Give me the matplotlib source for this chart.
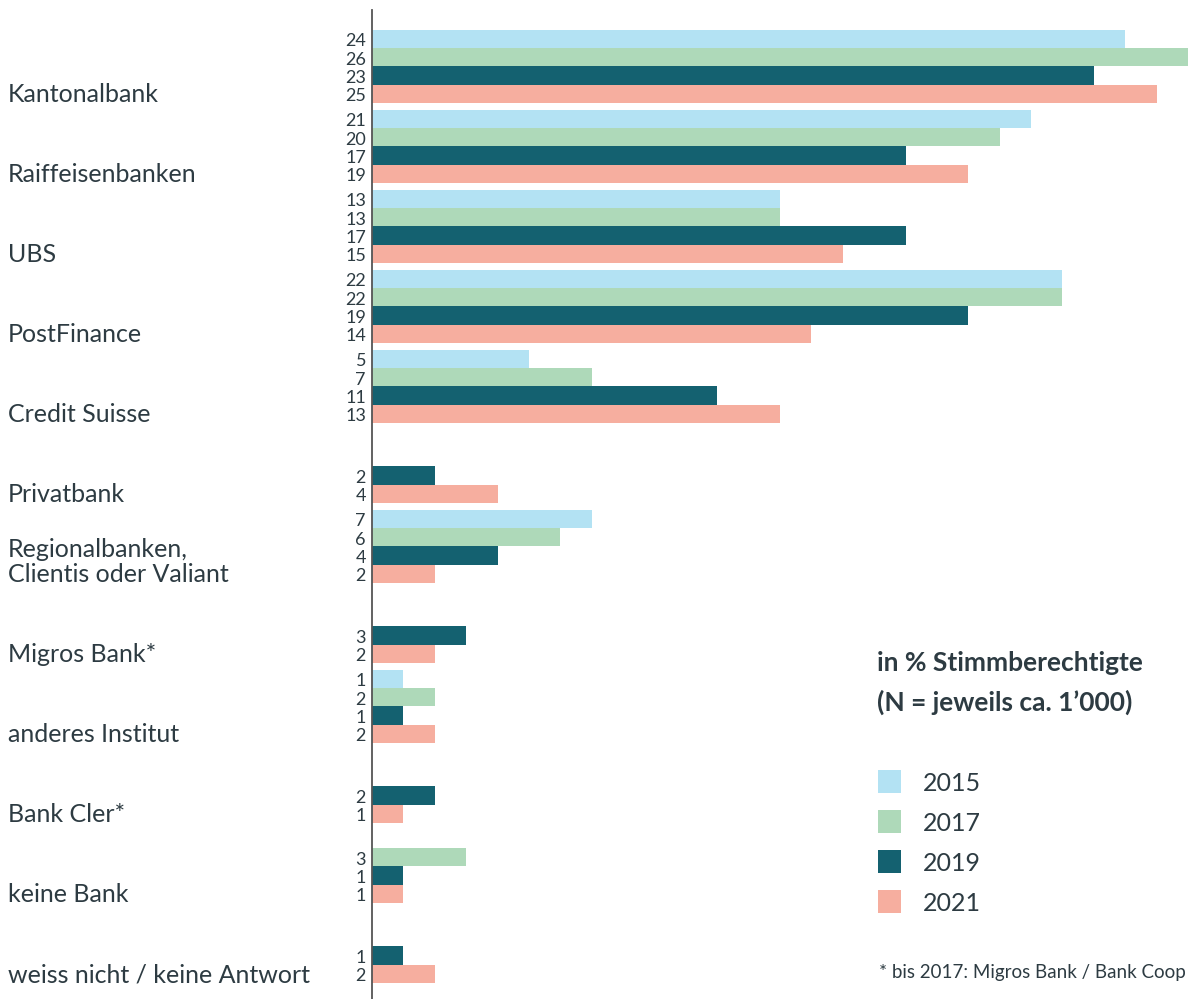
import matplotlib
matplotlib.use("Agg")
import matplotlib.pyplot as plt
import numpy as np

categories = ["Kantonalbank", "Raiffeisenbanken", "UBS", "PostFinance", "Credit Suisse",
              "Privatbank", "Regionalbanken,\nClientis oder Valiant", "Migros Bank*",
              "anderes Institut", "Bank Cler*", "keine Bank", "weiss nicht / keine Antwort"]
years = ["2015", "2017", "2019", "2021"]
v2015 = [24, 21, 13, 22, 5, None, 7, None, 1, None, None, None]
v2017 = [26, 20, 13, 22, 7, None, 6, None, 2, None, 3, None]
v2019 = [23, 17, 17, 19, 11, 2, 4, 3, 1, 2, 1, 1]
v2021 = [25, 19, 15, 14, 13, 4, 2, 2, 2, 1, 1, 2]
series = [v2015, v2017, v2019, v2021]
colors = ["#b3e2f3", "#aed9b9", "#146170", "#f6ae9f"]
title_lines = ["in % Stimmberechtigte", "(N = jeweils ca. 1\u2019000)"]
footnote = "* bis 2017: Migros Bank / Bank Coop"

TXT = "#2d3b42"
FONT = "Lato"

W, H = 1188, 999
fig = plt.figure(figsize=(W / 100, H / 100), dpi=100)

slot = 18.33          # px per bar
G = 80 / slot         # group pitch in slots
top_px, c0 = 10, 39   # axes top px, first bar center px
ax_left = 372 / W
ax = fig.add_axes([ax_left, 0, 1 - ax_left, (H - top_px) / H])
ax.set_xlim(0, 26)
ymin = (top_px - c0) / slot
ymax = (H - c0) / slot
ax.set_ylim(ymax, ymin)

for j, vals in enumerate(series):
    for i, v in enumerate(vals):
        if v is None:
            continue
        y = i * G + j
        ax.barh(y, v, height=1.0, color=colors[j], linewidth=0)
        ax.annotate(str(v), xy=(0, y), xytext=(-6, -7.5), textcoords="offset pixels",
                    ha="right", va="baseline", fontsize=13, color=TXT,
                    family=FONT, annotation_clip=False)

for i, cat in enumerate(categories):
    y = i * G + 3
    lines = cat.split("\n")
    for k, line in enumerate(reversed(lines)):
        ax.annotate(line, xy=(0, y), xycoords=("figure fraction", "data"),
                    xytext=(8, -8.5 + 25 * k), textcoords="offset pixels",
                    ha="left", va="baseline", fontsize=18, color=TXT,
                    family=FONT, annotation_clip=False)

for s in ["top", "right", "bottom"]:
    ax.spines[s].set_visible(False)
ax.spines["left"].set_color("#555555")
ax.spines["left"].set_linewidth(1.3)
ax.set_xticks([])
ax.set_yticks([])

def fy(px):
    return 1 - px / H

fig.text(877 / W, fy(671), title_lines[0], fontsize=19, fontweight="bold",
         color=TXT, family=FONT, ha="left", va="baseline")
fig.text(877 / W, fy(711), title_lines[1], fontsize=19, fontweight="bold",
         color=TXT, family=FONT, ha="left", va="baseline")

leg_y = [782, 822, 862, 902]
for yr, c, py in zip(years, colors, leg_y):
    fig.patches.append(plt.Rectangle((878 / W, fy(py + 11)), 23 / W, 23 / H,
                                     transform=fig.transFigure, color=c, lw=0))
    fig.text(923 / W, fy(py + 9), yr, fontsize=18, color=TXT, family=FONT,
             ha="left", va="baseline")

fig.text(1186 / W, fy(978), footnote, fontsize=13.5, color=TXT, family=FONT,
         ha="right", va="baseline")

fig.savefig("out.png", dpi=100)
